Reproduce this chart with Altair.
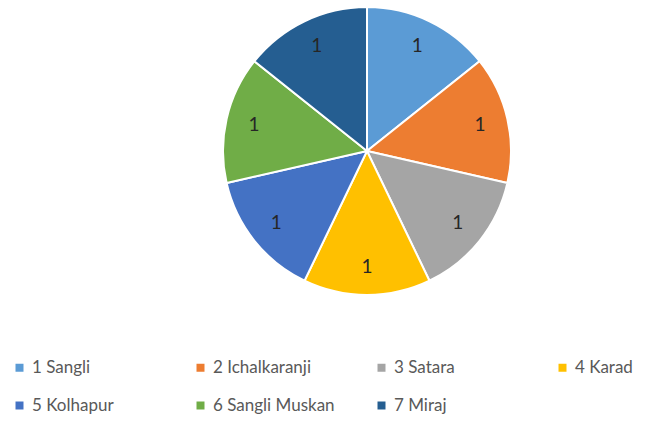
import altair as alt
import pandas as pd

names = ["1 Sangli", "2 Ichalkaranji", "3 Satara", "4 Karad", "5 Kolhapur", "6 Sangli Muskan", "7 Miraj"]
values = [1, 1, 1, 1, 1, 1, 1]
colors = ["#5B9BD5", "#ED7D31", "#A5A5A5", "#FFC000", "#4472C4", "#70AD47", "#255E91"]

df = pd.DataFrame({"name": names, "value": values, "order": list(range(len(names)))})

base = alt.Chart(df).encode(
    theta=alt.Theta("value:Q", stack=True),
    order=alt.Order("order:Q"),
)

pie = base.mark_arc(radius=144, stroke="white", strokeWidth=2).encode(
    x=alt.value(359), y=alt.value(143),
    color=alt.Color(
        "name:N",
        sort=names,
        scale=alt.Scale(domain=names, range=colors),
        legend=alt.Legend(
            title=None,
            orient="none",
            direction="horizontal",
            legendX=3,
            legendY=351,
            columns=4,
            gridAlign="all",
            columnPadding=38,
            rowPadding=20,
            symbolType="square",
            symbolSize=64,
            symbolStrokeWidth=0,
            labelFont="Lato",
            labelFontSize=17,
            labelColor="#595959",
            labelLimit=300,
        ),
    ),
)

labels = base.mark_text(radius=116, fontSize=19, font="Lato", color="#262626").encode(
    x=alt.value(359), y=alt.value(143),
    text=alt.Text("value:Q"),
)

chart = (pie + labels).properties(
    width=632, height=411, padding=0,
    autosize=alt.AutoSizeParams(type="none"),
).configure_view(stroke=None)

chart.save("out.html", embed_options={"renderer": "svg", "actions": False})
